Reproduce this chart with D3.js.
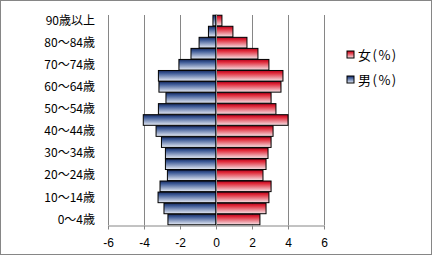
<!DOCTYPE html>
<html>
<head>
<meta charset="utf-8">
<script src="https://cdn.jsdelivr.net/npm/d3@7"></script>
<style>
  body { margin: 0; background: #fff; }
  svg { display: block; font-family: "Noto Sans CJK JP", sans-serif; }
  .axis path, .axis line { stroke: #868686; }
  .axis text { font-size: 12px; fill: #000; }
</style>
</head>
<body>
<svg id="chart"></svg>
<script>
// age groups, bottom to top
const categories = ['0～4歳', '5～9歳', '10～14歳', '15～19歳', '20～24歳', '25～29歳', '30～34歳',
    '35～39歳', '40～44歳', '45～49歳', '50～54歳', '55～59歳', '60～64歳', '65～69歳',
    '70～74歳', '75～79歳', '80～84歳', '85～89歳', '90歳以上'];
const male = [-2.67, -2.89, -3.22, -3.11, -2.7, -2.81, -2.81, -3.03, -3.33, -4.04,
    -3.2, -2.78, -3.17, -3.2, -2.06, -1.39, -0.94, -0.42, -0.17];
const female = [2.44, 2.78, 2.94, 3.06, 2.61, 2.78, 2.89, 3.06, 3.17, 4.0,
    3.33, 3.06, 3.61, 3.72, 2.94, 2.33, 1.72, 0.94, 0.33];
const xTicks = [-6, -4, -2, 0, 2, 4, 6];
const seriesNames = ['女(%)', '男(%)'];

const width = 432, height = 255;
const plot = {left: 108, right: 324, top: 15, bottom: 225};

const svg = d3.select('#chart')
    .attr('width', width)
    .attr('height', height);

// outer frame
svg.append('rect')
    .attr('x', 0.5).attr('y', 0.5)
    .attr('width', width - 1).attr('height', height - 1)
    .attr('fill', '#fff')
    .attr('stroke', '#868686');

// gradients
const defs = svg.append('defs');
function grad(id, stops) {
    const g = defs.append('linearGradient')
        .attr('id', id)
        .attr('x1', 0).attr('y1', 0).attr('x2', 0).attr('y2', 1);
    stops.forEach(s => g.append('stop').attr('offset', s[0]).attr('stop-color', s[1]));
}
grad('gFemale', [[0, '#b0001c'], [0.25, '#e02a3a'], [1, '#f6e4e8']]);
grad('gMale', [[0, '#17295c'], [0.25, '#3b5895'], [1, '#e6ebf5']]);

const xScale = d3.scaleLinear()
    .domain([-6, 6])
    .range([plot.left, plot.right]);

const yScale = d3.scaleBand()
    .domain(categories)
    .range([plot.bottom, plot.top])
    .paddingInner(0.04)
    .paddingOuter(0.02);

// gridlines
svg.append('g')
    .selectAll('line')
    .data(xTicks)
    .join('line')
    .attr('x1', d => Math.round(xScale(d)) + 0.5)
    .attr('x2', d => Math.round(xScale(d)) + 0.5)
    .attr('y1', plot.top)
    .attr('y2', plot.bottom)
    .attr('stroke', '#868686');

// bars
const rows = categories.map((c, i) => ({cat: c, m: male[i], f: female[i]}));

svg.append('g')
    .selectAll('rect')
    .data(rows)
    .join('rect')
    .attr('x', d => xScale(d.m))
    .attr('y', d => yScale(d.cat))
    .attr('width', d => xScale(0) - xScale(d.m))
    .attr('height', yScale.bandwidth())
    .attr('fill', 'url(#gMale)')
    .attr('stroke', '#000')
    .attr('stroke-width', 1);

svg.append('g')
    .selectAll('rect')
    .data(rows)
    .join('rect')
    .attr('x', xScale(0))
    .attr('y', d => yScale(d.cat))
    .attr('width', d => xScale(d.f) - xScale(0))
    .attr('height', yScale.bandwidth())
    .attr('fill', 'url(#gFemale)')
    .attr('stroke', '#000')
    .attr('stroke-width', 1);

// zero line over bars
svg.append('line')
    .attr('x1', Math.round(xScale(0)) + 0.5)
    .attr('x2', Math.round(xScale(0)) + 0.5)
    .attr('y1', plot.top)
    .attr('y2', plot.bottom)
    .attr('stroke', '#868686');

// x axis
svg.append('g')
    .attr('class', 'axis')
    .attr('transform', `translate(0, ${plot.bottom + 0.5})`)
    .call(d3.axisBottom(xScale)
        .tickValues(xTicks)
        .tickFormat(d => String(d))
        .tickSize(4)
        .tickSizeOuter(0)
        .tickPadding(9));

// category labels, every other one
svg.append('g')
    .selectAll('text')
    .data(categories.filter((c, i) => i % 2 === 0))
    .join('text')
    .attr('x', 95)
    .attr('y', d => yScale(d) + yScale.bandwidth() / 2)
    .attr('dy', '0.35em')
    .attr('text-anchor', 'end')
    .style('font-size', '12px')
    .text(d => d);

// legend
const legend = svg.append('g')
    .selectAll('g')
    .data(seriesNames)
    .join('g')
    .attr('transform', (d, i) => `translate(347, ${51 + i * 25})`);

legend.append('rect')
    .attr('width', 7)
    .attr('height', 7)
    .attr('fill', (d, i) => i === 0 ? 'url(#gFemale)' : 'url(#gMale)')
    .attr('stroke', '#000');

legend.append('text')
    .attr('x', 11)
    .attr('y', 4)
    .attr('dy', '0.35em')
    .style('font-size', '13px')
    .style('letter-spacing', '1.5px')
    .text(d => d);
</script>
</body>
</html>
